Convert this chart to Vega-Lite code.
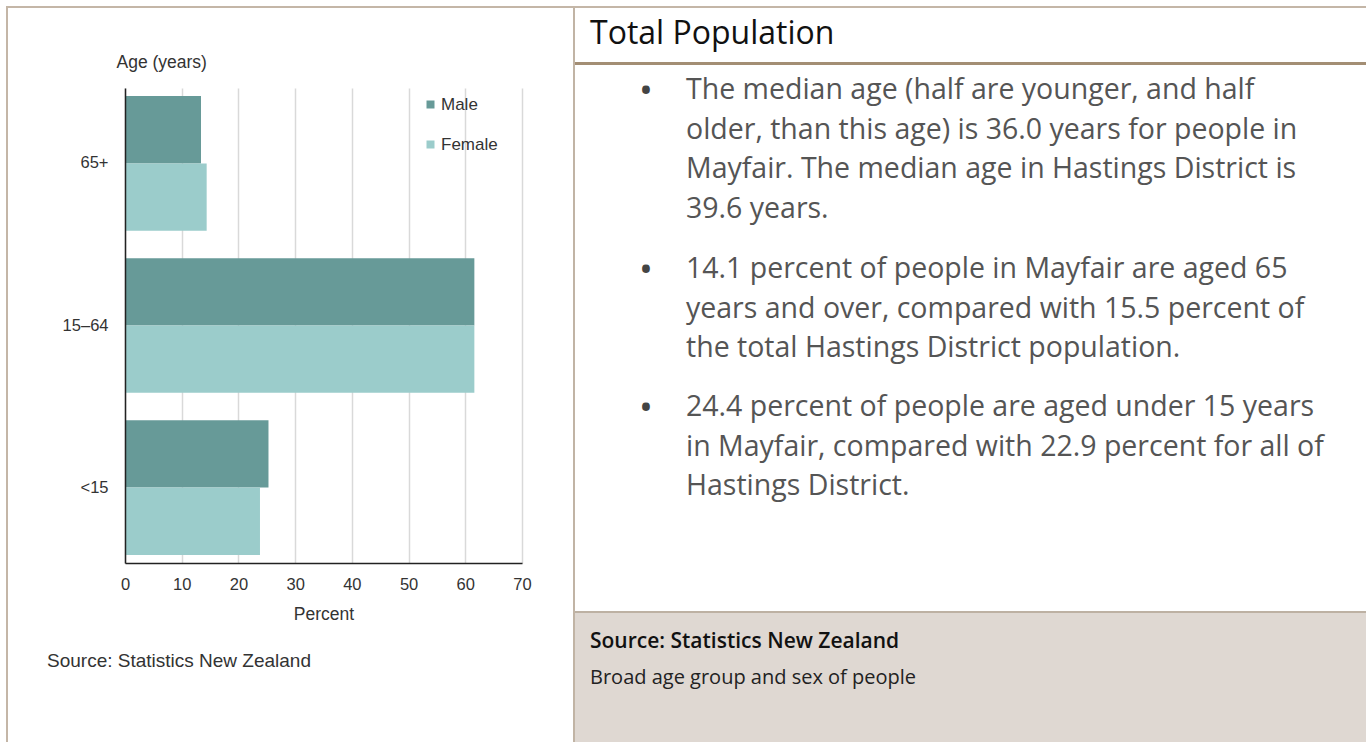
{
  "$schema": "https://vega.github.io/schema/vega-lite/v6.json",
  "padding": {"left": 6, "top": 6, "right": 0, "bottom": 0},
  "background": "white",
  "data": {"values": []},
  "config": {"view": {"stroke": null}, "concat": {"spacing": 0}},
  "columns": 7,
  "spacing": 0,
  "bounds": "flush",
  "concat": [
    {"width": 2, "height": 2, "mark": "rect", "view": {"fill": "#c4b6a7"}},
    {"width": 117, "height": 2, "mark": "rect", "view": {"fill": "#c4b6a7"}},
    {"width": 397, "height": 2, "mark": "rect", "view": {"fill": "#c4b6a7"}},
    {"width": 51, "height": 2, "mark": "rect", "view": {"fill": "#c4b6a7"}},
    {"width": 2, "height": 2, "mark": "rect", "view": {"fill": "#c4b6a7"}},
    {"width": 111, "height": 2, "mark": "rect", "view": {"fill": "#c4b6a7"}},
    {"width": 680, "height": 2, "mark": "rect", "view": {"fill": "#c4b6a7"}},

    {"width": 2, "height": 54, "mark": "rect", "view": {"fill": "#c4b6a7"}},
    {"width": 117, "height": 54, "mark": "rect"},
    {"width": 397, "height": 54, "mark": "rect"},
    {"width": 51, "height": 54, "mark": "rect"},
    {"width": 2, "height": 54, "mark": "rect", "view": {"fill": "#c1b4a5"}},
    {
      "width": 111, "height": 54, "mark": "rect",
      "title": {
        "text": "Total Population",
        "orient": "bottom", "anchor": "start", "frame": "group",
        "offset": -43, "dx": 15, "baseline": "top",
        "font": "Open Sans", "fontSize": 32, "fontWeight": "normal", "color": "#111111"
      }
    },
    {"width": 680, "height": 54, "mark": "rect"},

    {"width": 2, "height": 3, "mark": "rect", "view": {"fill": "#c4b6a7"}},
    {"width": 117, "height": 3, "mark": "rect"},
    {"width": 397, "height": 3, "mark": "rect"},
    {"width": 51, "height": 3, "mark": "rect"},
    {"width": 2, "height": 3, "mark": "rect", "view": {"fill": "#c1b4a5"}},
    {"width": 111, "height": 3, "mark": "rect", "view": {"fill": "#a38e74"}},
    {"width": 680, "height": 3, "mark": "rect", "view": {"fill": "#a38e74"}},

    {"width": 2, "height": 23, "mark": "rect", "view": {"fill": "#c4b6a7"}},
    {"width": 117, "height": 23, "mark": "rect"},
    {"width": 397, "height": 23, "mark": "rect"},
    {"width": 51, "height": 23, "mark": "rect"},
    {"width": 2, "height": 23, "mark": "rect", "view": {"fill": "#c1b4a5"}},
    {
      "width": 111, "height": 23, "mark": "rect",
      "title": {
        "text": "•",
        "orient": "bottom", "anchor": "start", "frame": "group",
        "offset": -14, "dx": 64, "baseline": "top",
        "font": "Open Sans", "fontSize": 37, "fontWeight": "normal", "color": "#444444"
      }
    },
    {
      "width": 680, "height": 23, "mark": "rect",
      "title": {
        "text": [
          "The median age (half are younger, and half",
          "older, than this age) is 36.0 years for people in",
          "Mayfair. The median age in Hastings District is",
          "39.6 years."
        ],
        "orient": "bottom", "anchor": "start", "frame": "group",
        "offset": -12, "dx": 0, "baseline": "top", "lineHeight": 39.7,
        "font": "Open Sans", "fontSize": 28.5, "fontWeight": "normal", "color": "#555555"
      }
    },

    {"width": 2, "height": 475, "mark": "rect", "view": {"fill": "#c4b6a7"}},
    {"width": 117, "height": 475, "mark": "rect"},
    {
      "width": 397,
      "height": 475,
      "data": {"values": [
        {"age": "65+", "sex": "Male", "pct": 13.4},
        {"age": "65+", "sex": "Female", "pct": 14.4},
        {"age": "15–64", "sex": "Male", "pct": 61.6},
        {"age": "15–64", "sex": "Female", "pct": 61.6},
        {"age": "<15", "sex": "Male", "pct": 25.3},
        {"age": "<15", "sex": "Female", "pct": 23.8}
      ]},
      "title": {
        "text": "Source: Statistics New Zealand",
        "orient": "bottom", "anchor": "start", "frame": "group",
        "dx": -78, "offset": 29, "baseline": "top",
        "font": "Liberation Sans", "fontSize": 19, "fontWeight": "normal", "color": "#333333"
      },
      "mark": {"type": "bar"},
      "encoding": {
        "y": {
          "field": "age",
          "type": "nominal",
          "sort": ["65+", "15–64", "<15"],
          "scale": {"paddingInner": 0.17, "paddingOuter": 0.05},
          "axis": {
            "title": "Age (years)",
            "titleAngle": 0,
            "titleX": -9,
            "titleY": -17,
            "titleAlign": "left",
            "titleBaseline": "bottom",
            "titleFont": "Liberation Sans",
            "titleFontSize": 17.5,
            "titleFontWeight": "normal",
            "titleColor": "#333333",
            "labelFont": "Liberation Sans",
            "labelFontSize": 16.5,
            "labelColor": "#333333",
            "labelPadding": 17,
            "ticks": false,
            "domainColor": "#222222",
            "domainWidth": 1.5,
            "zindex": 1
          }
        },
        "yOffset": {"field": "sex", "sort": ["Male", "Female"], "scale": {"paddingInner": 0}},
        "x": {
          "field": "pct",
          "type": "quantitative",
          "scale": {"domain": [0, 70], "nice": false},
          "axis": {
            "title": "Percent",
            "values": [0, 10, 20, 30, 40, 50, 60, 70],
            "labelFlush": false,
            "grid": true,
            "gridColor": "#d9d9d9",
            "gridWidth": 1.5,
            "ticks": false,
            "domainColor": "#222222",
            "domainWidth": 1.5,
            "labelFont": "Liberation Sans",
            "labelFontSize": 16.5,
            "labelColor": "#333333",
            "labelPadding": 13,
            "titleFont": "Liberation Sans",
            "titleFontSize": 17.5,
            "titleFontWeight": "normal",
            "titleColor": "#333333",
            "titlePadding": 13
          }
        },
        "color": {
          "field": "sex",
          "type": "nominal",
          "scale": {"domain": ["Male", "Female"], "range": ["#679a98", "#9bcccb"]},
          "legend": {
            "orient": "none",
            "legendX": 416,
            "legendY": 90,
            "title": null,
            "padding": 0,
            "symbolType": "square",
            "symbolSize": 64,
            "symbolStrokeWidth": 0,
            "labelFont": "Liberation Sans",
            "labelFontSize": 17,
            "labelColor": "#333333",
            "labelOffset": 2,
            "rowPadding": 22
          }
        }
      }
    },
    {"width": 51, "height": 475, "mark": "rect"},
    {"width": 2, "height": 475, "mark": "rect", "view": {"fill": "#c1b4a5"}},
    {
      "width": 111, "height": 475, "mark": "rect",
      "title": {
        "text": "•",
        "orient": "bottom", "anchor": "start", "frame": "group",
        "offset": -310, "dx": 64, "baseline": "top",
        "font": "Open Sans", "fontSize": 37, "fontWeight": "normal", "color": "#444444"
      }
    },
    {
      "width": 680, "height": 475, "mark": "rect",
      "title": {
        "text": [
          "14.1 percent of people in Mayfair are aged 65",
          "years and over, compared with 15.5 percent of",
          "the total Hastings District population."
        ],
        "orient": "bottom", "anchor": "start", "frame": "group",
        "offset": -308, "dx": 0, "baseline": "top", "lineHeight": 39.7,
        "font": "Open Sans", "fontSize": 28.5, "fontWeight": "normal", "color": "#555555"
      }
    },

    {"width": 2, "height": 48, "mark": "rect", "view": {"fill": "#c4b6a7"}},
    {"width": 117, "height": 48, "mark": "rect"},
    {"width": 397, "height": 48, "mark": "rect"},
    {"width": 51, "height": 48, "mark": "rect"},
    {"width": 2, "height": 48, "mark": "rect", "view": {"fill": "#c1b4a5"}},
    {
      "width": 111, "height": 48, "mark": "rect",
      "title": {
        "text": "•",
        "orient": "bottom", "anchor": "start", "frame": "group",
        "offset": -220, "dx": 64, "baseline": "top",
        "font": "Open Sans", "fontSize": 37, "fontWeight": "normal", "color": "#444444"
      }
    },
    {
      "width": 680, "height": 48, "mark": "rect",
      "title": {
        "text": [
          "24.4 percent of people are aged under 15 years",
          "in Mayfair, compared with 22.9 percent for all of",
          "Hastings District."
        ],
        "orient": "bottom", "anchor": "start", "frame": "group",
        "offset": -218, "dx": 0, "baseline": "top", "lineHeight": 39.7,
        "font": "Open Sans", "fontSize": 28.5, "fontWeight": "normal", "color": "#555555"
      }
    },

    {"width": 2, "height": 2, "mark": "rect", "view": {"fill": "#c4b6a7"}},
    {"width": 117, "height": 2, "mark": "rect"},
    {"width": 397, "height": 2, "mark": "rect"},
    {"width": 51, "height": 2, "mark": "rect"},
    {"width": 2, "height": 2, "mark": "rect", "view": {"fill": "#c1b4a5"}},
    {"width": 111, "height": 2, "mark": "rect", "view": {"fill": "#bdb1a3"}},
    {"width": 680, "height": 2, "mark": "rect", "view": {"fill": "#bdb1a3"}},

    {"width": 2, "height": 129, "mark": "rect", "view": {"fill": "#c4b6a7"}},
    {"width": 117, "height": 129, "mark": "rect"},
    {"width": 397, "height": 129, "mark": "rect"},
    {"width": 51, "height": 129, "mark": "rect"},
    {"width": 2, "height": 129, "mark": "rect", "view": {"fill": "#c1b4a5"}},
    {"width": 111, "height": 129, "mark": "rect", "view": {"fill": "#dfd8d2"}},
    {
      "width": 680, "height": 129, "mark": "rect", "view": {"fill": "#dfd8d2"},
      "title": {
        "text": "Source: Statistics New Zealand",
        "subtitle": "Broad age group and sex of people",
        "orient": "bottom", "anchor": "start", "frame": "group",
        "offset": -111, "dx": -96, "baseline": "top",
        "font": "Open Sans", "fontSize": 21, "fontWeight": 600, "color": "#111111",
        "subtitleFont": "Open Sans", "subtitleFontSize": 20, "subtitleColor": "#222222",
        "subtitlePadding": 16
      }
    }
  ]
}
